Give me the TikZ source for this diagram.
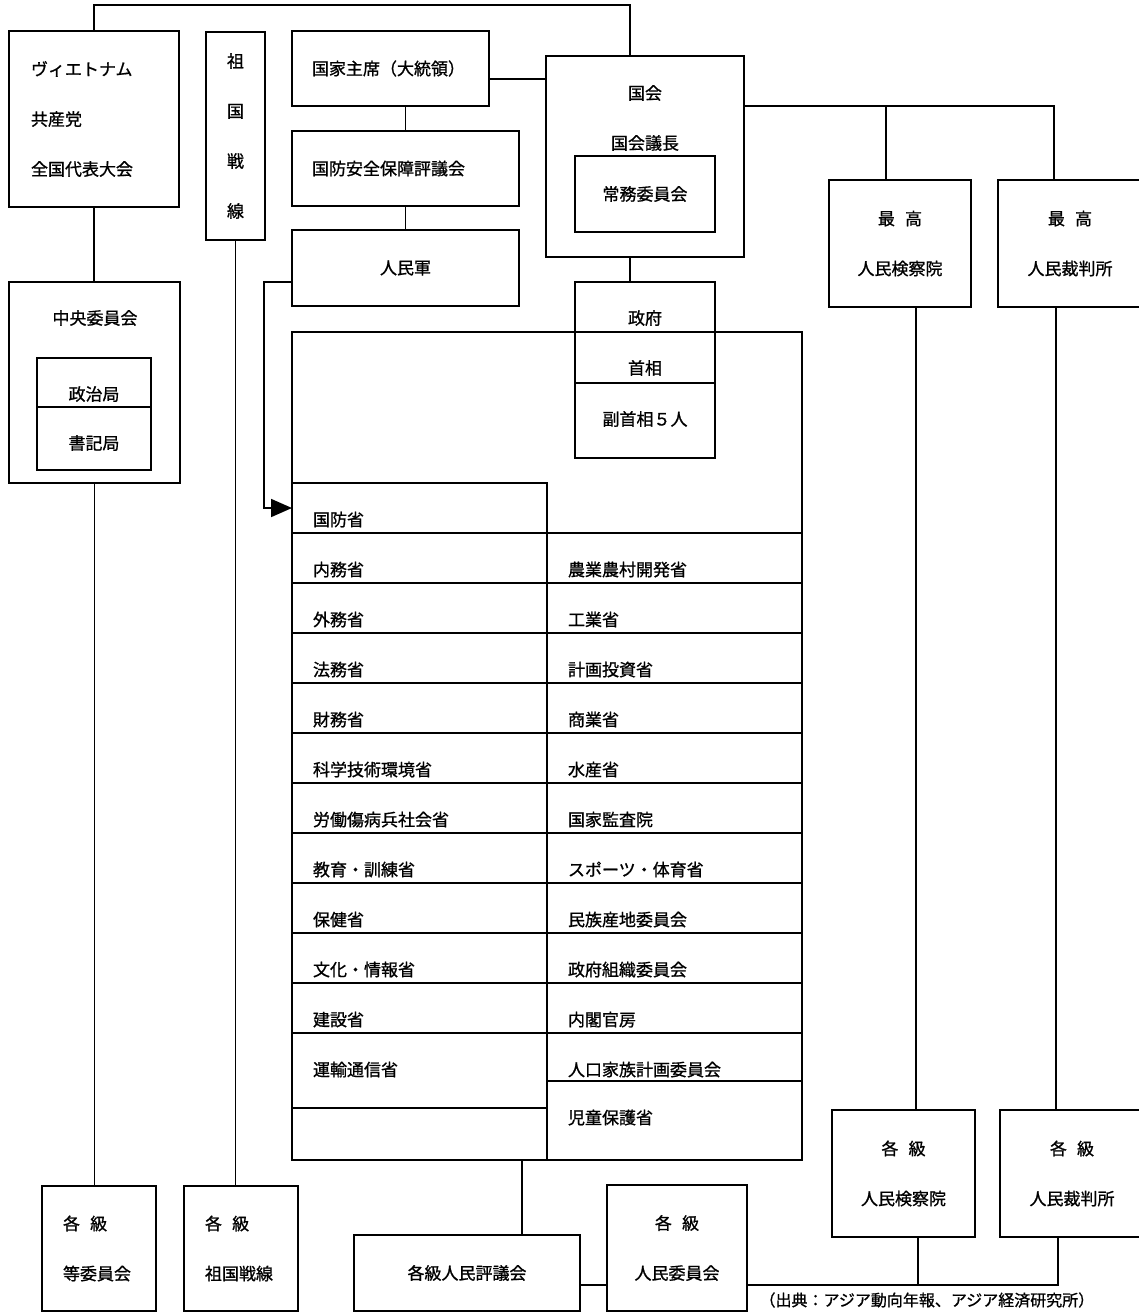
\documentclass[tikz,border=0pt]{standalone}
\usepackage{fontspec}
\setmainfont{Noto Sans CJK JP}[FakeBold=1]
\usepackage{tikz}
\usetikzlibrary{arrows.meta, positioning, calc}

\begin{document}
\begin{tikzpicture}[
  x=1pt, y=-1pt,
  every node/.style={font=\fontsize{17}{50}\selectfont},
  box/.style={draw, line width=2pt, outer sep=0pt, inner sep=0pt, align=center},
  lbox/.style={box, align=left, inner xsep=21pt},
  stack/.style={box, text height=42.5pt, text depth=#1, anchor=north},
  cell/.style={draw, line width=1.6pt, outer sep=0pt, inner xsep=21pt, inner ysep=0pt,
    text width=213pt, align=left, text height=43pt, text depth=#1, anchor=north west},
  cell/.default=7pt,
  link/.style={line width=1.8pt},
  arrow/.style={link, -{Triangle[length=21pt, width=18pt]}}
]
  \useasboundingbox (0,0) rectangle (1138,1312);

  \node[lbox, text width=126pt, inner xsep=22pt, minimum height=176pt] (party) at (94,119) {ヴィエトナム\\共産党\\全国代表大会};
  \node[box, minimum width=59pt, minimum height=208pt] (front) at (235.5,136) {祖\\国\\戦\\線};
  \node[lbox, text width=157pt, inner xsep=20pt, minimum height=75pt] (pres) at (390.5,68.5) {国家主席（大統領）};
  \node[lbox, text width=187pt, inner xsep=20pt, minimum height=75pt] (nsc) at (405.5,168.5) {国防安全保障評議会};
  \node[box, minimum width=227pt, minimum height=76pt] (army) at (405.5,268) {人民軍};

  \node[box, minimum width=198pt, minimum height=201pt] (assembly) at (645,156.5) {};
  \node (asmname) at (645,93) {国会};
  \node (speaker) at (645,143) {国会議長};
  \node[box, minimum width=140pt, minimum height=76pt] (standing) at (645,194) {常務委員会};

  \node[box, minimum width=142pt, minimum height=127pt] (proc) at (900,243.5) {最\hspace{.6em}高\\人民検察院};
  \node[box, minimum width=144pt, minimum height=127pt] (court) at (1070,243.5) {最\hspace{.6em}高\\人民裁判所};

  \node[box, minimum width=171pt, minimum height=201pt] (cc) at (94.5,382.5) {};
  \node (ccname) at (95,318) {中央委員会};
  \node[stack=6.5pt, minimum width=114pt] (polit) at (94,358) {政治局};
  \node[stack=20.5pt, minimum width=114pt, below=0pt of polit] (secr) {書記局};

  \node[box, anchor=north west, minimum width=510pt, minimum height=828pt] (ministries) at (292,332) {};
  \node[stack=7.5pt, minimum width=140pt, fill=white] (gov) at (645,282) {政府};
  \node[stack=8.5pt, minimum width=140pt, below=0pt of gov] (pm) {首相};
  \node[stack=32.5pt, minimum width=140pt, below=0pt of pm] (dpm) {副首相５人};

  \node[cell] (defense) at (292,483) {国防省};
  \foreach \l/\r [count=\i] in {内務省/農業農村開発省, 外務省/工業省, 法務省/計画投資省,
      財務省/商業省, 科学技術環境省/水産省, 労働傷病兵社会省/国家監査院,
      教育・訓練省/スポーツ・体育省, 保健省/民族産地委員会,
      文化・情報省/政府組織委員会, 建設省/内閣官房} {
    \node[cell] (L\i) at (292,483+50*\i) {\l};
    \node[cell] (R\i) at (547,483+50*\i) {\r};
  }
  \node[cell=32pt] (transport) at (292,1033) {運輸通信省};
  \node[cell=9pt, below=0pt of transport] (blank) {};
  \node[cell=5pt] (family) at (547,1033) {人口家族計画委員会};
  \node[cell=36pt, below=0pt of family] (children) {児童保護省};

  \node[lbox, text width=72pt, minimum height=125pt] (lcom) at (99,1248.5) {各\hspace{.6em}級\\等委員会};
  \node[lbox, text width=72pt, minimum height=125pt] (lfront) at (241,1248.5) {各\hspace{.6em}級\\祖国戦線};
  \node[box, minimum width=226pt, minimum height=76pt] (lcouncil) at (467,1273) {各級人民評議会};
  \node[box, minimum width=140pt, minimum height=126pt] (lpc) at (677,1248) {各\hspace{.6em}級\\人民委員会};
  \node[box, minimum width=143pt, minimum height=127pt] (lproc) at (903.5,1173.5) {各\hspace{.6em}級\\人民検察院};
  \node[box, minimum width=144pt, minimum height=127pt] (lcourt) at (1072,1173.5) {各\hspace{.6em}級\\人民裁判所};

  \node[anchor=west, font=\fontsize{16}{16}\selectfont] (source) at (756,1300) {（出典：アジア動向年報、アジア経済研究所）};

  \draw[link] (party.north) -- ++(0,-26) -| ([xshift=-15pt]assembly.north);
  \draw[link] ([yshift=-10.5pt]pres.east) -- ([yshift=-10.5pt]pres.east -| assembly.west);
  \draw[link] (nsc.north) -- (nsc.north |- pres.south);
  \draw[link] (nsc) -- (army);
  \draw[arrow] ([yshift=-14pt]army.west) -- ++(-28,0) |- (defense.west);
  \draw[link] ([xshift=-15pt]assembly.south) -- ([xshift=-15pt]gov.north);

  \coordinate (asmR) at ([yshift=50.5pt]assembly.east);
  \coordinate (procup) at ([xshift=-14pt]proc.north);
  \draw[link] (asmR) -| ([xshift=-16pt]court.north);
  \draw[link] (procup) -- (procup |- asmR);

  \draw[link] (party.south) -- (party.south |- cc.north);
  \draw[link] (cc.south) -- (cc.south |- lcom.north);
  \draw[link] (front.south) -- (front.south |- lfront.north);

  \coordinate (cUp) at ([xshift=55pt]lcouncil.north);
  \draw[link] (cUp) -- (cUp |- ministries.south);
  \coordinate (cR) at ([yshift=-12pt]lcouncil.east);
  \draw[link] (cR) -- (cR -| lpc.west);

  \coordinate (procdown) at ([xshift=16pt]proc.south);
  \draw[link] (procdown) -- (procdown |- lproc.north);
  \coordinate (courtdown) at ([xshift=-14pt]court.south);
  \draw[link] (courtdown) -- (courtdown |- lcourt.north);

  \coordinate (lpcR) at ([yshift=-37pt]lpc.east);
  \coordinate (procdrop) at ([xshift=14.5pt]lproc.south);
  \draw[link] (lpcR) -| ([xshift=-14pt]lcourt.south);
  \draw[link] (procdrop) -- (procdrop |- lpcR);
\end{tikzpicture}
\end{document}
